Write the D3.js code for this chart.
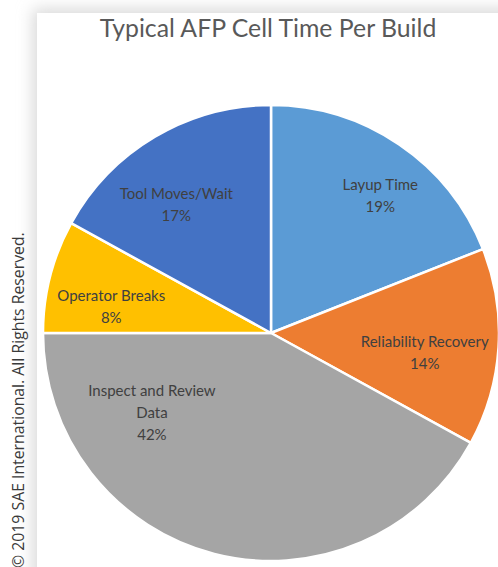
<!DOCTYPE html>
<html>
<head>
<meta charset="utf-8">
<script src="https://cdn.jsdelivr.net/npm/d3@7"></script>
<style>
  html, body { margin: 0; padding: 0; background: #ffffff; }
  svg { display: block; }
</style>
</head>
<body>
<svg id="chart" width="498" height="567"></svg>
<script>
// Share of cell time per build, clockwise from 12 o'clock
const categories = ["Layup Time", "Reliability Recovery", "Inspect and Review Data", "Operator Breaks", "Tool Moves/Wait"];
const shares = [19, 14, 42, 8, 17];
const labelLines = [["Layup Time"], ["Reliability Recovery"], ["Inspect and Review", "Data"], ["Operator Breaks"], ["Tool Moves/Wait"]];
const colors = ["#5B9BD5", "#ED7D31", "#A5A5A5", "#FFC000", "#4472C4"];

// label anchor: angle (deg, clockwise from top) and distance as a fraction of the radius
const labelPlacement = [[38.5, 0.77], [97.4, 0.68], [236, 0.63], [279.3, 0.71], [323.6, 0.70]];

const W = 498, H = 567;
const svg = d3.select("#chart");
const defs = svg.append("defs");
const shadow = defs.append("filter").attr("id", "shadow")
  .attr("x", "-20%").attr("y", "-20%").attr("width", "140%").attr("height", "140%");
shadow.append("feGaussianBlur").attr("stdDeviation", 8);

// panel with soft drop shadow
const panel = { x: 37, y: 13 };
svg.append("rect").attr("x", panel.x - 4).attr("y", panel.y - 4)
  .attr("width", W + 40).attr("height", H + 40)
  .attr("fill", "#d8d8d8").attr("filter", "url(#shadow)");
svg.append("rect").attr("x", panel.x).attr("y", panel.y)
  .attr("width", W).attr("height", H).attr("fill", "#ffffff");

// title
svg.append("text")
  .attr("x", 268).attr("y", 37)
  .attr("text-anchor", "middle")
  .attr("font-family", "Lato, 'Open Sans', sans-serif")
  .attr("font-size", 24.8)
  .attr("fill", "#595959")
  .text("Typical AFP Cell Time Per Build");

// pie
const cx = 271, cy = 333, R = 228;
const g = svg.append("g").attr("transform", `translate(${cx},${cy})`);
const pie = d3.pie().value(d => d.v).sort(null);
const arc = d3.arc().innerRadius(0).outerRadius(R);
const data = categories.map((c, i) => ({ c, v: shares[i], i }));
const arcs = pie(data);

g.selectAll("path.slice").data(arcs).enter().append("path")
  .attr("class", "slice")
  .attr("d", arc)
  .attr("fill", d => colors[d.data.i])
  .attr("stroke", "#ffffff")
  .attr("stroke-width", 2.5)
  .attr("stroke-linejoin", "round");

// data labels
const lineH = 22;
arcs.forEach(d => {
  const [angDeg, frac] = labelPlacement[d.data.i];
  const a = angDeg * Math.PI / 180;
  const x = Math.sin(a) * R * frac;
  const y = -Math.cos(a) * R * frac;
  const lines = labelLines[d.data.i].concat([d.data.v + "%"]);
  const top = y - (lines.length - 1) * lineH / 2;
  const t = g.append("text")
    .attr("text-anchor", "middle")
    .attr("font-family", "Lato, 'Open Sans', sans-serif")
    .attr("font-size", 15)
    .attr("fill", "#404040");
  lines.forEach((ln, k) => {
    t.append("tspan").attr("x", x).attr("y", top + k * lineH + 5).text(ln);
  });
});

// copyright notice along the left edge
svg.append("text")
  .attr("transform", "translate(24,568) rotate(-90)")
  .attr("font-family", "'Open Sans', 'DejaVu Sans', sans-serif")
  .attr("font-size", 15.8)
  .attr("fill", "#3a3a3a")
  .text("© 2019 SAE International. All Rights Reserved.");
</script>
</body>
</html>
